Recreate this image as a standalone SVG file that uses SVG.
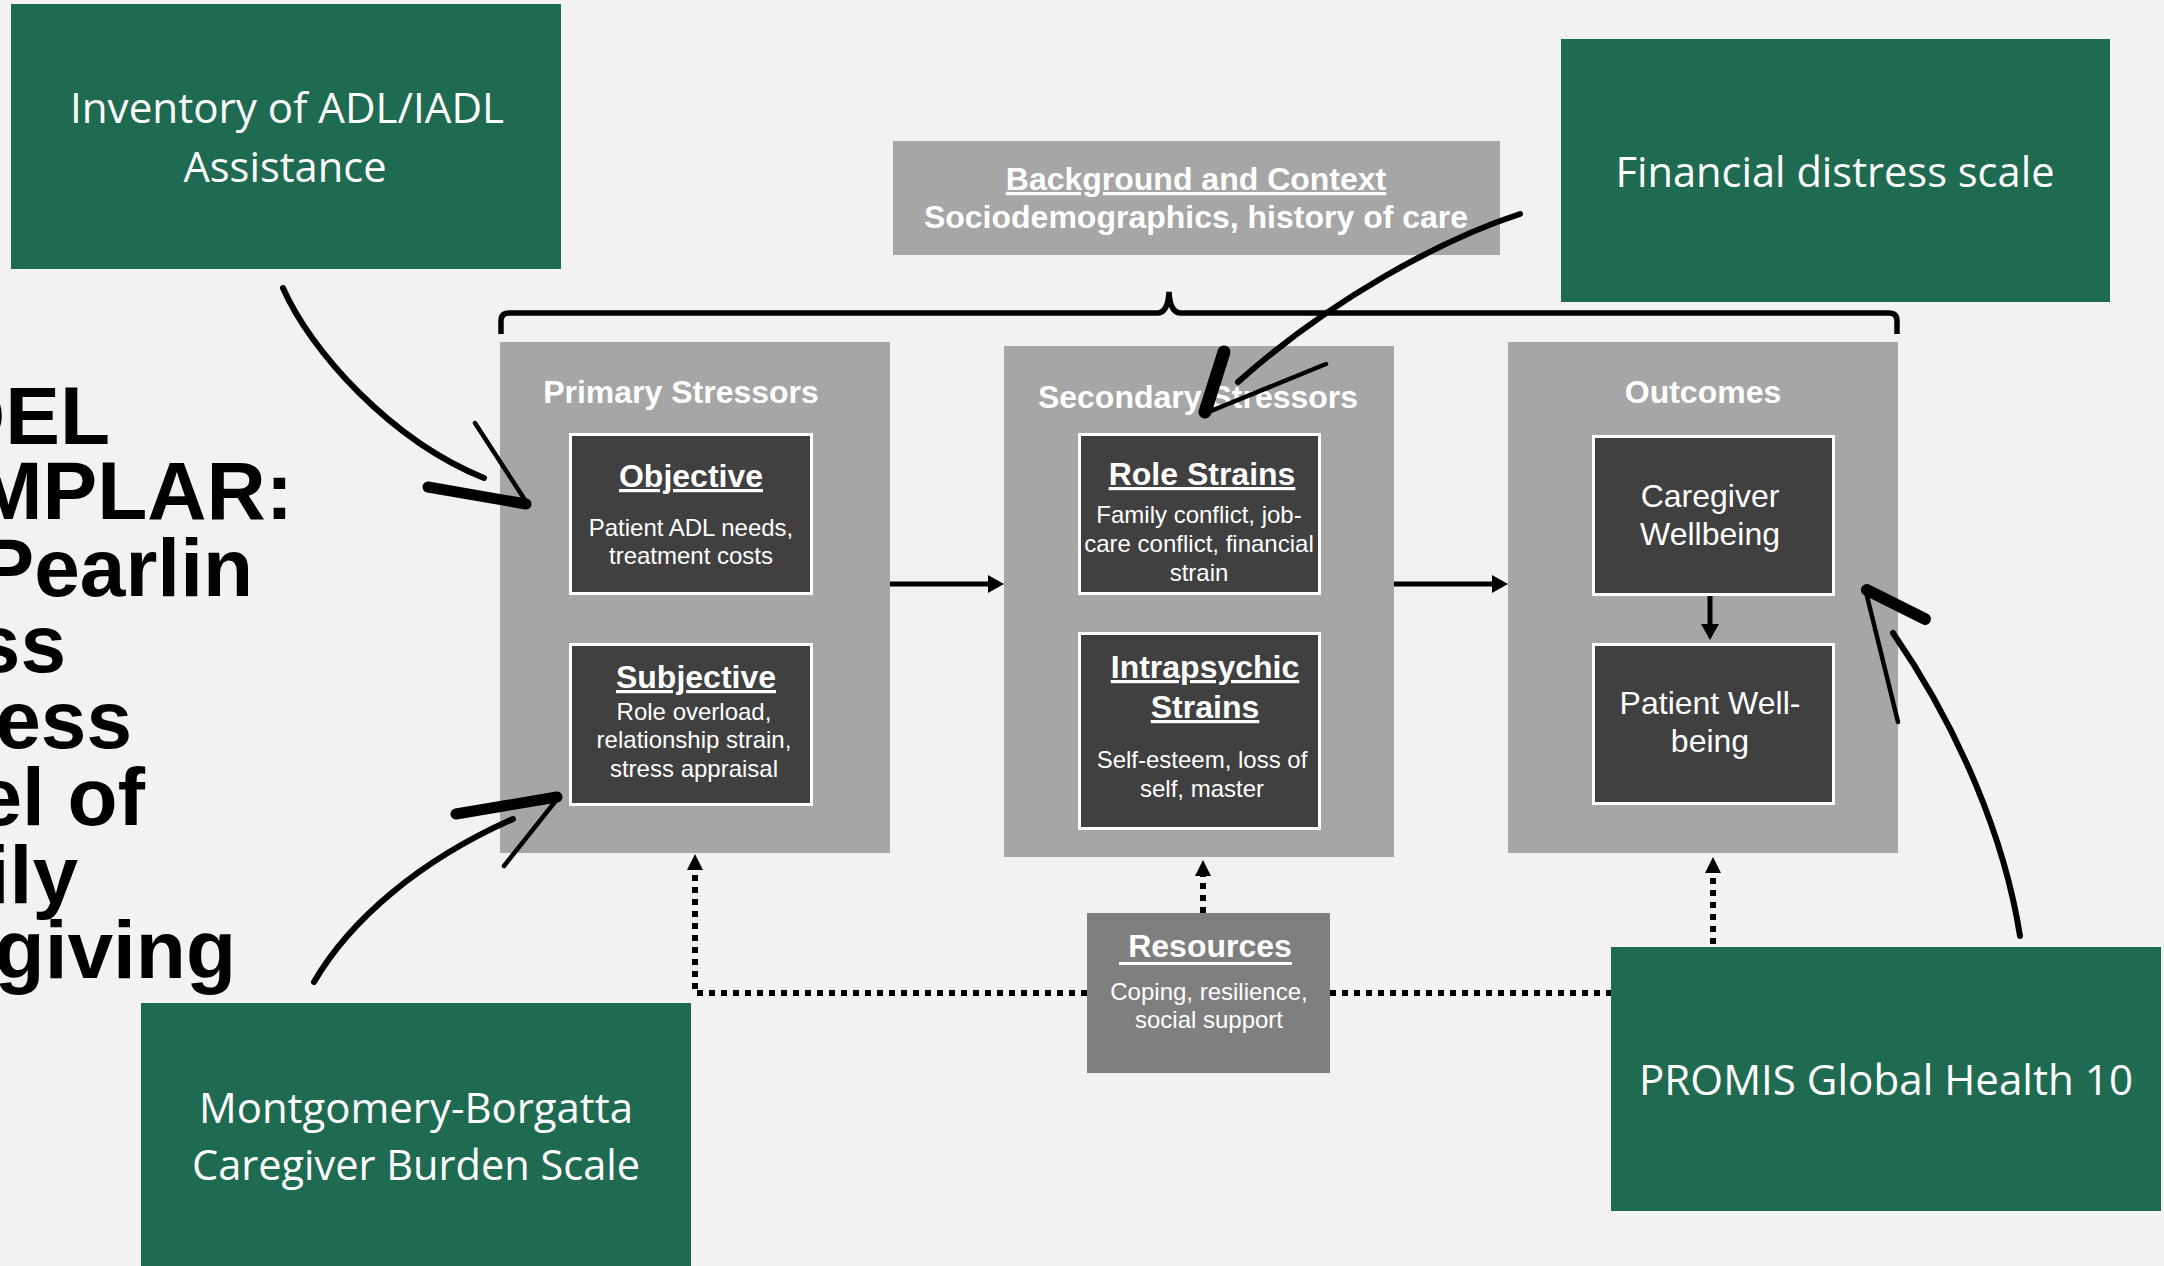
<svg xmlns="http://www.w3.org/2000/svg" width="2164" height="1266" viewBox="0 0 2164 1266">
<defs>
<style>
.cont{fill:#a6a6a6}
.res{fill:#7f7f7f}
.inner{fill:#404040;stroke:#ffffff;stroke-width:3}
.green{fill:#1f6b52}
.hdr{font-family:"Liberation Sans",Arial,sans-serif;font-weight:bold;font-size:32px;fill:#ffffff;text-anchor:middle}
.ul{text-decoration:underline}
.body{font-family:"Liberation Sans",Arial,sans-serif;font-size:24px;fill:#ffffff;text-anchor:middle}
.big{font-family:"Liberation Sans",Arial,sans-serif;font-size:32px;fill:#ffffff;text-anchor:middle}
.cal{font-family:"Open Sans","Noto Sans",sans-serif;font-size:42px;fill:#ffffff;text-anchor:middle}
.title{font-family:"Liberation Sans",Arial,sans-serif;font-weight:bold;font-size:82px;fill:#000000;text-anchor:end}
.solid{fill:none;stroke:#000;stroke-width:5}
.dot{fill:none;stroke:#000;stroke-width:6;stroke-dasharray:6 6}
.brush{fill:none;stroke:#000;stroke-linecap:round;stroke-linejoin:round}
</style>
<marker id="ah" markerUnits="userSpaceOnUse" markerWidth="18" markerHeight="20" refX="0" refY="9" orient="auto">
<path d="M0,0 L16,9 L0,18 Z" fill="#000"/>
</marker>
<marker id="ahs" markerUnits="userSpaceOnUse" markerWidth="18" markerHeight="18" refX="0" refY="8" orient="auto">
<path d="M0,0 L16,8 L0,16 Z" fill="#000"/>
</marker>
</defs>
<rect width="2164" height="1266" fill="#f2f2f2"/>

<g id="title">
<text class="title" x="110" y="444">DEL</text>
<text class="title" x="293" y="519">MPLAR:</text>
<text class="title" x="253" y="596">Pearlin</text>
<text class="title" x="66" y="672">ss</text>
<text class="title" x="132" y="748">ess</text>
<text class="title" x="145" y="825">el of</text>
<text class="title" x="78" y="903">ily</text>
<text class="title" x="236" y="978">giving</text>
</g>

<g id="bracket">
<path d="M501,334 V321 Q501,313 509,313 H1158 Q1168,312 1169,292 Q1170,312 1180,313 H1889 Q1897,313 1897,321 V334" fill="none" stroke="#000" stroke-width="5.5"/>
</g>

<g id="background-context">
<rect class="cont" x="893" y="141" width="607" height="114"/>
<text class="hdr ul" x="1196" y="190">Background and Context</text>
<text class="hdr" x="1196" y="228">Sociodemographics, history of care</text>
</g>

<g id="primary-stressors">
<rect class="cont" x="500" y="342" width="390" height="511"/>
<text class="hdr" x="681" y="403">Primary Stressors</text>
</g>
<g id="objective">
<rect class="inner" x="570.5" y="434.5" width="241" height="159"/>
<text class="hdr ul" x="691" y="487">Objective</text>
<text class="body" x="691" y="536">Patient ADL needs,</text>
<text class="body" x="691" y="564">treatment costs</text>
</g>
<g id="subjective">
<rect class="inner" x="570.5" y="644.5" width="241" height="160"/>
<text class="hdr ul" x="696" y="688">Subjective</text>
<text class="body" x="694" y="720">Role overload,</text>
<text class="body" x="694" y="748">relationship strain,</text>
<text class="body" x="694" y="777">stress appraisal</text>
</g>

<g id="secondary-stressors">
<rect class="cont" x="1004" y="346" width="390" height="511"/>
<text class="hdr" x="1198" y="408">Secondary Stressors</text>
</g>
<g id="role-strains">
<rect class="inner" x="1079.5" y="434.5" width="240" height="159"/>
<text class="hdr ul" x="1202" y="485">Role Strains</text>
<text class="body" x="1199" y="523">Family conflict, job-</text>
<text class="body" x="1199" y="552">care conflict, financial</text>
<text class="body" x="1199" y="581">strain</text>
</g>
<g id="intrapsychic-strains">
<rect class="inner" x="1079.5" y="633.5" width="240" height="195"/>
<text class="hdr ul" x="1205" y="678">Intrapsychic</text>
<text class="hdr ul" x="1205" y="718">Strains</text>
<text class="body" x="1202" y="768">Self-esteem, loss of</text>
<text class="body" x="1202" y="797">self, master</text>
</g>

<g id="outcomes">
<rect class="cont" x="1508" y="342" width="390" height="511"/>
<text class="hdr" x="1703" y="403">Outcomes</text>
</g>
<g id="caregiver-wellbeing">
<rect class="inner" x="1593.5" y="436.5" width="240" height="158"/>
<text class="big" x="1710" y="507">Caregiver</text>
<text class="big" x="1710" y="545">Wellbeing</text>
</g>
<g id="patient-wellbeing">
<rect class="inner" x="1593.5" y="644.5" width="240" height="159"/>
<text class="big" x="1710" y="714">Patient Well-</text>
<text class="big" x="1710" y="752">being</text>
</g>

<g id="resources">
<rect class="res" x="1087" y="913" width="243" height="160"/>
<text class="hdr" x="1210" y="957">Resources</text>
<line x1="1119" y1="963.5" x2="1292" y2="963.5" stroke="#fff" stroke-width="3"/>
<text class="body" x="1209" y="1000">Coping, resilience,</text>
<text class="body" x="1209" y="1028">social support</text>
</g>

<g id="connectors">
<path class="solid" d="M890,584 H988" marker-end="url(#ah)"/>
<path class="solid" d="M1394,584 H1492" marker-end="url(#ah)"/>
<path class="solid" d="M1710,596 V624" marker-end="url(#ah)"/>
<path class="dot" d="M1087,993 H695 V870" marker-end="url(#ahs)"/>
<path class="dot" d="M1203,913 V876" marker-end="url(#ahs)"/>
<path class="dot" d="M1330,993 H1713 V873" marker-end="url(#ahs)"/>
<g id="arrow-inventory">
<path class="brush" stroke-width="6" d="M283,288 C310,350 390,440 484,478"/>
<path class="brush" stroke-width="11" d="M428,487 L526,504"/>
<path class="brush" stroke-width="4.5" d="M475,423 L527,503"/>
</g>
<g id="arrow-montgomery">
<path class="brush" stroke-width="6" d="M314,982 C350,920 420,860 513,819"/>
<path class="brush" stroke-width="11" d="M456,814 L557,797"/>
<path class="brush" stroke-width="4.5" d="M504,866 L558,798"/>
</g>
<g id="arrow-financial">
<path class="brush" stroke-width="6" d="M1520,214 C1440,240 1330,300 1238,382"/>
<path class="brush" stroke-width="13" d="M1224,352 L1205,412"/>
<path class="brush" stroke-width="4.5" d="M1326,364 L1206,413"/>
</g>
<g id="arrow-promis">
<path class="brush" stroke-width="6" d="M2020,936 C2005,840 1960,730 1893,633"/>
<path class="brush" stroke-width="12" d="M1867,590 L1925,619"/>
<path class="brush" stroke-width="4.5" d="M1866,592 L1898,722"/>
</g>
</g>

<g id="inventory-adl">
<rect class="green" x="11" y="4" width="550" height="265"/>
<text class="cal" x="287" y="123" textLength="434" lengthAdjust="spacingAndGlyphs">Inventory of ADL/IADL</text>
<text class="cal" x="285" y="182" textLength="203" lengthAdjust="spacingAndGlyphs">Assistance</text>
</g>
<g id="financial-distress">
<rect class="green" x="1561" y="39" width="549" height="263"/>
<text class="cal" x="1835" y="187" textLength="439" lengthAdjust="spacingAndGlyphs">Financial distress scale</text>
</g>
<g id="montgomery-borgatta">
<rect class="green" x="141" y="1003" width="550" height="263"/>
<text class="cal" x="416" y="1123" textLength="434" lengthAdjust="spacingAndGlyphs">Montgomery-Borgatta</text>
<text class="cal" x="416" y="1180" textLength="448" lengthAdjust="spacingAndGlyphs">Caregiver Burden Scale</text>
</g>
<g id="promis">
<rect class="green" x="1611" y="947" width="550" height="264"/>
<text class="cal" x="1886" y="1095" textLength="494" lengthAdjust="spacingAndGlyphs">PROMIS Global Health 10</text>
</g>
</svg>
